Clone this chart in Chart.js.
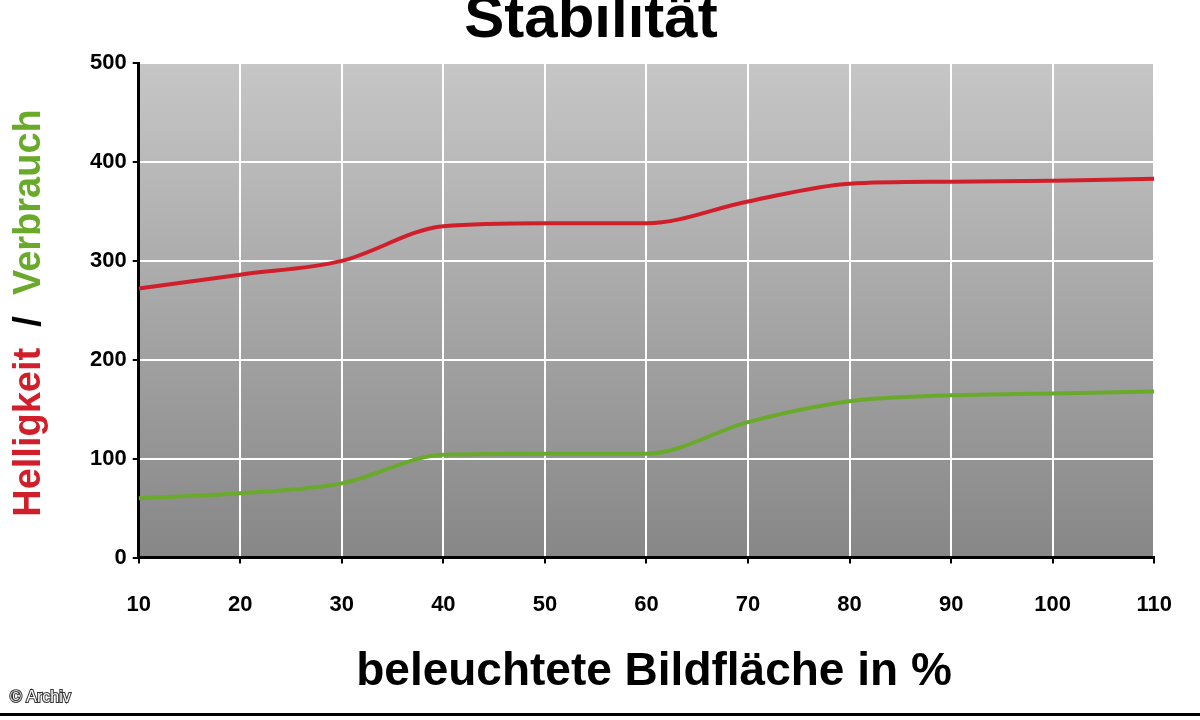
<!DOCTYPE html>
<html><head><meta charset="utf-8">
<script src="https://cdn.jsdelivr.net/npm/chart.js@4/dist/chart.umd.min.js"></script>
<style>html,body{margin:0;background:#fff}#wrap{width:1200px;height:720px;position:relative}</style>
</head><body><div id="wrap"><canvas id="c"></canvas></div>
<script>
const xValues = [10, 20, 30, 40, 50, 60, 70, 80, 90, 100, 110];
const helligkeit = [272, 286, 300, 335, 338, 338, 360, 378, 380, 381, 383];
const verbrauch = [60, 65, 75, 104, 105, 105, 137, 158, 164, 166, 168];

// background gradient, title, axis titles, footer
const decor = {
  id: 'decor',
  beforeDraw(chart) {
    const { ctx, chartArea: a } = chart;
    const g = ctx.createLinearGradient(0, a.top, 0, a.bottom);
    g.addColorStop(0, '#c6c6c6');
    g.addColorStop(1, '#878787');
    ctx.save();
    ctx.fillStyle = g;
    ctx.fillRect(a.left, a.top, a.right - a.left, a.bottom - a.top);
    ctx.restore();
  },
  afterDraw(chart) {
    const { ctx } = chart;
    ctx.save();
    ctx.fillStyle = '#000';
    ctx.textAlign = 'center';
    ctx.textBaseline = 'alphabetic';
    ctx.font = 'bold 60px Arial, "Liberation Sans"';
    ctx.fillText('Stabilität', 591, 37);
    ctx.font = 'bold 46px Arial, "Liberation Sans"';
    ctx.fillText('beleuchtete Bildfläche in %', 654, 685);
    // y title, multicolour
    ctx.translate(30, 313);
    ctx.rotate(-Math.PI / 2);
    ctx.font = 'bold 38px Arial, "Liberation Sans"';
    const parts = [['Helligkeit', '#d01f2a'], ['  /  ', '#000'], ['Verbrauch', '#6aaa2a']];
    const total = parts.reduce((s, p) => s + ctx.measureText(p[0]).width, 0);
    let x = -total / 2;
    ctx.textAlign = 'left';
    ctx.textBaseline = 'middle';
    for (const [t, c] of parts) {
      ctx.fillStyle = c;
      ctx.fillText(t, x, 0);
      x += ctx.measureText(t).width;
    }
    ctx.restore();
    ctx.save();
    ctx.font = '16px Arial, "Liberation Sans"';
    ctx.fillStyle = '#fff';
    ctx.strokeStyle = '#333';
    ctx.lineWidth = 2;
    ctx.strokeText('© Archiv', 10, 702);
    ctx.fillText('© Archiv', 10, 702);
    ctx.fillStyle = '#000';
    ctx.fillRect(0, 713, 1200, 3);
    ctx.restore();
  }
};

new Chart(document.getElementById('c'), {
  type: 'line',
  data: {
    labels: xValues,
    datasets: [
      { data: helligkeit, borderColor: '#d01f2a', borderWidth: 4, pointRadius: 0, tension: 0.4, cubicInterpolationMode: 'monotone' },
      { data: verbrauch, borderColor: '#6aaa2a', borderWidth: 4, pointRadius: 0, tension: 0.4, cubicInterpolationMode: 'monotone' }
    ]
  },
  options: {
    responsive: true,
    maintainAspectRatio: false,
    animation: false,
    layout: { padding: { top: 63, left: 84, right: 30, bottom: 74 } },
    plugins: { legend: { display: false }, tooltip: { enabled: false } },
    scales: {
      x: {
        type: 'linear', min: 10, max: 110,
        ticks: { stepSize: 10, color: '#000', font: { size: 22, weight: 'bold', family: 'Arial' }, padding: 28 },
        grid: { color: '#fff', lineWidth: 2, tickColor: '#000', tickLength: 6 },
        border: { color: '#000', width: 3 }
      },
      y: {
        min: 0, max: 500,
        ticks: { stepSize: 100, color: '#000', font: { size: 22, weight: 'bold', family: 'Arial' }, padding: 6 },
        grid: { color: '#fff', lineWidth: 2, tickColor: '#000', tickLength: 6 },
        border: { color: '#000', width: 3 }
      }
    }
  },
  plugins: [decor]
});
</script></body></html>
